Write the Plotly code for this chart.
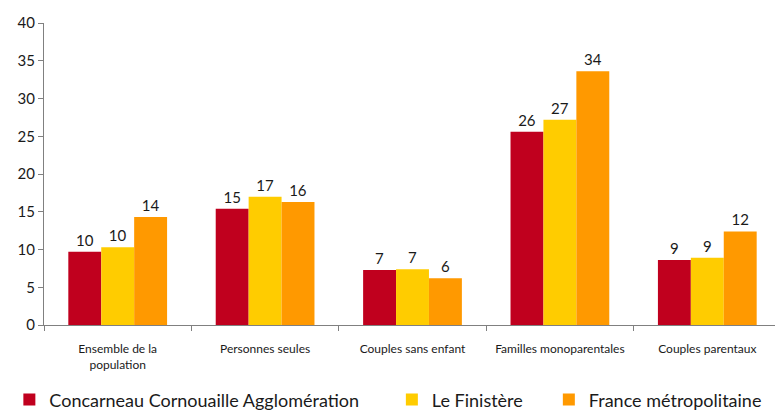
import plotly.graph_objects as go

categories = [
    "Ensemble de la<br>population",
    "Personnes seules",
    "Couples sans enfant",
    "Familles monoparentales",
    "Couples parentaux",
]

concarneau = [9.7, 15.4, 7.3, 25.6, 8.6]
finistere = [10.3, 17.0, 7.4, 27.2, 8.9]
france = [14.3, 16.3, 6.2, 33.6, 12.4]

series = [
    ("Concarneau Cornouaille Agglomération", concarneau, "#C0001E", "legend", -0.047),
    ("Le Finistère", finistere, "#FFCC00", "legend2", 0.472),
    ("France métropolitaine", france, "#FF9900", "legend3", 0.685),
]

fig = go.Figure()
legends = {}
for name, values, color, leg, lx in series:
    fig.add_trace(go.Bar(
        x=categories, y=values, name=name, legend=leg,
        marker=dict(color=color, line=dict(width=0)),
        texttemplate="%{y:.0f}", textposition="outside",
        textfont=dict(size=15, color="#1a1a1a"),
        cliponaxis=False,
    ))
    legends[leg] = dict(
        orientation="h", x=lx, y=-0.248, xanchor="left", yanchor="middle",
        font=dict(size=18), itemwidth=30, bgcolor="rgba(0,0,0,0)",
    )

# page body has an 8px margin, so the figure is drawn 8px smaller
fig.update_layout(
    width=775, height=404,
    margin=dict(l=36, r=2, t=15, b=87, autoexpand=False),
    paper_bgcolor="white", plot_bgcolor="white",
    font=dict(family="Lato, Open Sans, sans-serif", color="#1a1a1a"),
    barmode="group", bargap=0.33, bargroupgap=0,
    showlegend=True,
    **legends,
)
fig.update_xaxes(
    showline=True, linecolor="#808080", linewidth=1,
    ticks="outside", tickson="boundaries", ticklen=5, tickcolor="#808080",
    tickfont=dict(size=12), showgrid=False, ticklabelstandoff=13,
)
fig.update_yaxes(
    range=[0, 40], dtick=5, showgrid=False,
    showline=True, linecolor="#808080", linewidth=1,
    ticks="outside", ticklen=5, tickcolor="#808080",
    tickfont=dict(size=15), zeroline=False,
)

fig.write_html("out.html")
